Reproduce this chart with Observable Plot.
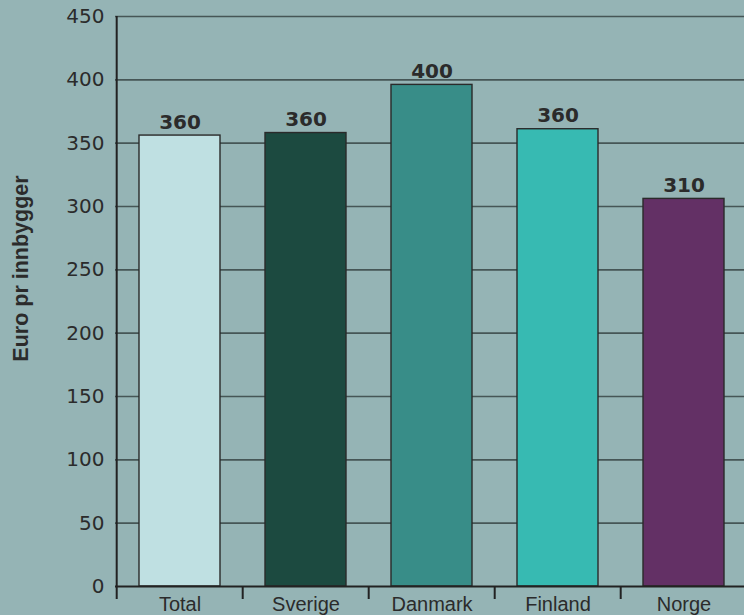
<!DOCTYPE html>
<html>
<head>
<meta charset="utf-8">
<script src="https://cdn.jsdelivr.net/npm/d3@7"></script>
<script src="https://cdn.jsdelivr.net/npm/@observablehq/plot@0.6"></script>
<style>
  html, body { margin: 0; padding: 0; background: #95b4b5; overflow: hidden; }
  #chart svg { display: block; background: #95b4b5; }
</style>
</head>
<body>
<div id="chart"></div>
<script>
const categories = ["Total", "Sverige", "Danmark", "Finland", "Norge"];
const values = [356, 358, 396, 361, 306];
const valueLabels = ["360", "360", "400", "360", "310"];
const barColors = ["#bfe0e2", "#1c4a40", "#388d88", "#37bab2", "#633065"];
const yTicks = [0, 50, 100, 150, 200, 250, 300, 350, 400, 450];
const yTitle = "Euro pr innbygger";

const data = categories.map((c, i) => ({cat: c, value: values[i], label: valueLabels[i], color: barColors[i]}));

const W = 744, H = 615, mL = 115, mR = -4, mT = 16, mB = 29;
const step = (W - mR - mL) / categories.length;

const chart = Plot.plot({
  width: W,
  height: H,
  marginLeft: mL,
  marginRight: mR,
  marginTop: mT,
  marginBottom: mB,
  style: {background: "#95b4b5", color: "#2b2b2b"},
  x: {domain: categories, paddingInner: 0.36, paddingOuter: 0.18, label: null},
  y: {domain: [0, 450], label: null},
  marks: [
    Plot.ruleY(yTicks.filter(d => d > 0), {stroke: "#465656", strokeWidth: 1.6}),
    Plot.barY(data, {x: "cat", y: "value", fill: "color", stroke: "#2a2a2a", strokeWidth: 1.4}),
    Plot.text(data, {x: "cat", y: "value", text: "label", lineAnchor: "bottom", dy: -7,
      fontFamily: "DejaVu Sans", fontWeight: "bold", fontSize: 20, fill: "#2b2b2b"}),
    Plot.ruleY([0], {stroke: "#222", strokeWidth: 2}),
    Plot.ruleX([categories[0]], {dx: -step / 2, stroke: "#222", strokeWidth: 2}),
    Plot.axisX({tickSize: 13, tickFormat: () => "", dx: -step / 2, stroke: "#222", strokeWidth: 2}),
    Plot.axisX({tickSize: 0, tickPadding: 10, fontSize: 20, fontFamily: "Liberation Sans", fill: "#2b2b2b", label: null}),
    Plot.axisY({ticks: yTicks, tickSize: 0, tickPadding: 11, fontSize: 20, fontFamily: "DejaVu Sans", fill: "#2b2b2b", label: null}),
    Plot.text([yTitle], {frameAnchor: "left", textAnchor: "middle", rotate: -90, dx: -94, dy: -33,
      fontFamily: "Liberation Sans", fontWeight: "bold", fontSize: 21.5, fill: "#2b2b2b"})
  ]
});
document.getElementById("chart").appendChild(chart);
</script>
</body>
</html>
